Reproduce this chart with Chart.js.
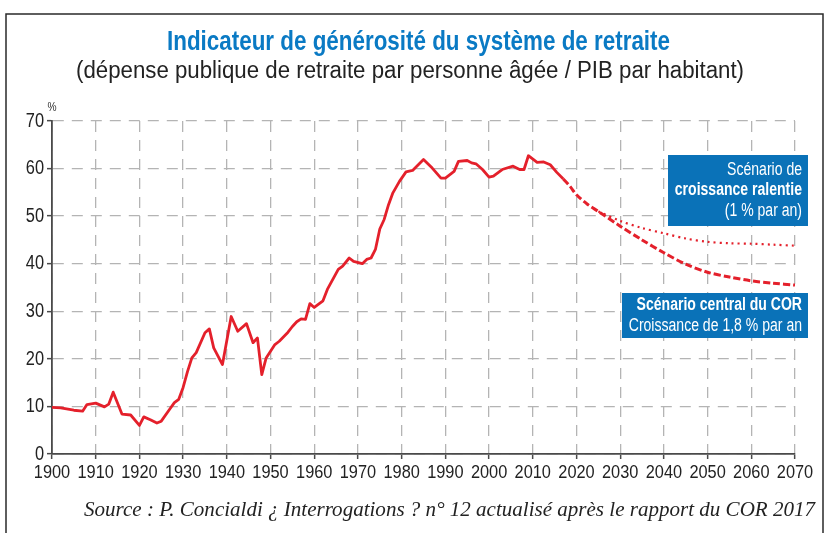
<!DOCTYPE html>
<html>
<head>
<meta charset="utf-8">
<script src="https://cdn.jsdelivr.net/npm/chart.js@4.4.1/dist/chart.umd.min.js"></script>
<style>
  html, body { margin: 0; padding: 0; background: #ffffff; }
  #wrap { position: relative; width: 825px; height: 533px; }
  canvas { display: block; }
</style>
</head>
<body>
<div id="wrap"><canvas id="c" width="825" height="533"></canvas></div>
<script>
// ---------- Data ----------
const histYears = [1900,1902,1905,1907,1908,1910,1912,1913,1914,1916,1918,1920,1921,1922.5,1924,1925,1927,1928,1929,1930,1931,1932,1933,1935,1936,1937,1939,1941,1942.5,1944.5,1946,1947,1948,1949,1951,1952,1954,1955,1956,1957,1958,1959,1960,1962,1963,1965.5,1966.5,1968,1969,1971,1972,1973,1974,1975,1976,1977,1978,1979.5,1981,1982.5,1985,1987,1989,1990,1992,1993,1995,1996,1997,1998.5,2000,2001,2003,2005.5,2007,2008,2009,2011,2012.5,2014,2015.5,2017];
const histValues = [9.8,9.7,9.2,9.0,10.4,10.7,9.9,10.5,13.0,8.4,8.2,6.0,7.8,7.2,6.5,6.9,9.5,10.8,11.5,14.0,17.3,20.2,21.3,25.5,26.3,22.3,18.8,28.9,25.8,27.4,23.4,24.4,16.7,20.2,23.0,23.7,25.6,26.8,27.8,28.4,28.3,31.6,30.8,32.2,34.6,38.8,39.5,41.2,40.5,40.0,40.9,41.2,43.0,47.3,49.3,52.4,54.9,57.3,59.3,59.6,61.9,60.1,58.0,58.0,59.4,61.5,61.7,61.2,61.0,59.8,58.2,58.4,59.8,60.5,59.8,59.8,62.7,61.3,61.4,60.8,59.2,57.8];

const centralYears = [2017,2018.5,2020,2022.5,2025,2030,2035,2040,2045,2050,2055,2060,2065,2070];
const centralValues = [57.8,56.3,54.5,52.5,51.0,47.9,45.0,42.3,39.9,38.2,37.2,36.4,35.9,35.5];

const slowYears = [2025,2030,2035,2040,2045,2050,2055,2060,2065,2070];
const slowValues = [51.0,49.0,47.5,46.4,45.3,44.6,44.3,44.2,44.0,43.8];

const xTickYears = [1900,1910,1920,1930,1940,1950,1960,1970,1980,1990,2000,2010,2020,2030,2040,2050,2060,2070];
const yTickValues = [0,10,20,30,40,50,60,70];

const titleText = "Indicateur de générosité du système de retraite";
const subtitleText = "(dépense publique de retraite par personne âgée / PIB par habitant)";
const unitText = "%";
const sourceText = "Source : P. Concialdi ¿ Interrogations ? n° 12 actualisé après le rapport du COR 2017";
const boxSlow = [["Scénario de", false], ["croissance ralentie", true], ["(1 % par an)", false]];
const boxCentral = [["Scénario central du COR", true], ["Croissance de 1,8 % par an", false]];

// ---------- Styles ----------
const RED = '#e4202b';
const BLUE = '#0a72b8';
const TITLE_BLUE = '#0a7ac4';
const SANS = '"Liberation Sans", Arial, sans-serif';
const SERIF = '"Liberation Serif", "DejaVu Serif", serif';
const GRID = '#b4b4b4';
const AXIS = '#4a4a4a';
const NARROW_FACTOR = 0.78;

const toPts = (xs, ys) => xs.map((x, i) => ({x: x, y: ys[i]}));

// draw text horizontally condensed to a given width
function fitText(ctx, text, font, x, y, width, align) {
  ctx.font = font;
  const w = ctx.measureText(text).width;
  ctx.save();
  ctx.translate(x, y);
  ctx.scale(width / w, 1);
  ctx.textAlign = align;
  ctx.fillText(text, 0, 0);
  ctx.restore();
}
function narrowText(ctx, text, font, x, y, factor, align) {
  ctx.font = font;
  ctx.save();
  ctx.translate(x, y);
  ctx.scale(factor, 1);
  ctx.textAlign = align;
  ctx.fillText(text, 0, 0);
  ctx.restore();
}

// tick labels from the library's own label items, drawn condensed
function condenseLabels(scale, factor) {
  if (!scale || typeof scale.getLabelItems !== 'function' || scale._condensed) return;
  scale._condensed = true;
  scale.drawLabels = function (chartArea) {
    const ctx = this.ctx;
    const items = this.getLabelItems(chartArea);
    for (const item of items) {
      const o = item.options;
      ctx.save();
      ctx.translate(o.translation[0], o.translation[1]);
      if (o.rotation) ctx.rotate(o.rotation);
      ctx.scale(factor, 1);
      ctx.font = item.font.string;
      ctx.fillStyle = o.color;
      ctx.textAlign = o.textAlign;
      ctx.textBaseline = o.textBaseline;
      const lines = Array.isArray(item.label) ? item.label : [item.label];
      let yy = item.textOffset;
      for (const line of lines) { ctx.fillText(String(line), 0, yy); yy += item.font.lineHeight; }
      ctx.restore();
    }
  };
}

const decorPlugin = {
  id: 'decor',
  beforeDraw(chart) {
    condenseLabels(chart.scales.x, 0.86);
    condenseLabels(chart.scales.y, 0.8);
    const ctx = chart.ctx;
    ctx.save();
    ctx.fillStyle = '#ffffff';
    ctx.fillRect(0, 0, chart.width, chart.height);
    ctx.strokeStyle = '#2a2a2a';
    ctx.lineWidth = 1.5;
    ctx.beginPath();
    ctx.moveTo(6, 533);
    ctx.lineTo(6, 14);
    ctx.lineTo(823, 14);
    ctx.lineTo(823, 533);
    ctx.stroke();
    ctx.restore();
  },
  afterDraw(chart) {
    const ctx = chart.ctx;
    const ca = chart.chartArea;
    ctx.save();
    ctx.textBaseline = 'middle';
    ctx.fillStyle = TITLE_BLUE;
    fitText(ctx, titleText, 'bold 28px ' + SANS, 418.5, 42, 503, 'center');
    ctx.fillStyle = '#222222';
    fitText(ctx, subtitleText, '23px ' + SANS, 410, 72, 668, 'center');
    ctx.fillStyle = '#333333';
    narrowText(ctx, unitText, '12px ' + SANS, ca.left, ca.top - 13, 0.85, 'center');
    ctx.fillStyle = '#222222';
    fitText(ctx, sourceText, 'italic 20px ' + SERIF, 815, 511, 731, 'right');
    const drawBox = (lines, left, top, right, bottom, firstY, step) => {
      ctx.fillStyle = BLUE;
      ctx.fillRect(left, top, right - left, bottom - top);
      ctx.fillStyle = '#ffffff';
      lines.forEach((ln, i) => {
        narrowText(ctx, ln[0], (ln[1] ? 'bold ' : '') + '18px ' + SANS, right - 6, firstY + i * step, NARROW_FACTOR, 'right');
      });
    };
    drawBox(boxSlow, 668, 155, 808, 226, 170, 20.5);
    drawBox(boxCentral, 622, 293, 808, 338, 305, 21.5);
    ctx.restore();
  }
};

new Chart(document.getElementById('c'), {
  type: 'line',
  data: {
    datasets: [
      { label: 'Historique', data: toPts(histYears, histValues), borderColor: RED, borderWidth: 2.8, pointRadius: 0, tension: 0, fill: false, borderJoinStyle: 'round' },
      { label: 'Scénario central du COR', data: toPts(centralYears, centralValues), borderColor: RED, borderWidth: 3, borderDash: [7, 3], pointRadius: 0, tension: 0.3, fill: false },
      { label: 'Croissance ralentie', data: toPts(slowYears, slowValues), borderColor: RED, borderWidth: 2.2, borderDash: [2, 4], pointRadius: 0, tension: 0.3, fill: false }
    ]
  },
  options: {
    responsive: false,
    animation: false,
    events: [],
    layout: { padding: { left: 0, right: 30, top: 121, bottom: 49 } },
    plugins: { legend: { display: false }, tooltip: { enabled: false }, title: { display: false } },
    scales: {
      x: {
        type: 'linear', min: 1900, max: 2070,
        afterBuildTicks: (s) => { s.ticks = xTickYears.map(v => ({value: v})); },
        afterFit: (s) => { s.height = 30; },
        ticks: { callback: (v) => String(v), color: '#222', font: { family: SANS, size: 19 }, padding: 2, maxRotation: 0, autoSkip: false },
        grid: { color: GRID, lineWidth: 1.3, tickLength: 5, tickColor: AXIS, tickWidth: 1.5 },
        border: { color: AXIS, width: 1.8, dash: [11, 8] }
      },
      y: {
        min: 0, max: 70,
        afterBuildTicks: (s) => { s.ticks = yTickValues.map(v => ({value: v})); },
        afterFit: (s) => { s.width = 52; },
        ticks: { color: '#222', font: { family: SANS, size: 20.5 }, padding: 3 },
        grid: { color: GRID, lineWidth: 1.3, tickLength: 5, tickColor: AXIS, tickWidth: 1.5 },
        border: { color: AXIS, width: 1.8, dash: [11, 8] }
      }
    }
  },
  plugins: [decorPlugin]
});
</script>
</body>
</html>
